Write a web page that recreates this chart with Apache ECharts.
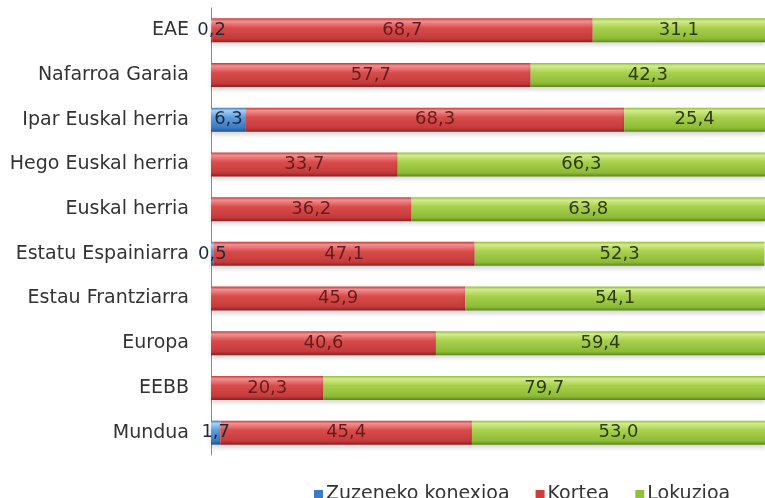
<!DOCTYPE html>
<html>
<head>
<meta charset="utf-8">
<script src="https://cdn.jsdelivr.net/npm/echarts@6/dist/echarts.min.js"></script>
<style>
  html, body { margin: 0; padding: 0; background: #fff; }
  #chart { width: 765px; height: 498px; }
</style>
</head>
<body>
<div id="chart"></div>
<script>
// Regions, listed top to bottom
const categories = [
  'EAE', 'Nafarroa Garaia', 'Ipar Euskal herria', 'Hego Euskal herria',
  'Euskal herria', 'Estatu Espainiarra', 'Estau Frantziarra', 'Europa',
  'EEBB', 'Mundua'
];
const seriesNames = ['Zuzeneko konexioa', 'Kortea', 'Lokuzioa'];
// Shares in percent (null = no segment)
const zuzenekoKonexioa = [0.2, null, 6.3, null, null, 0.5, null, null, null, 1.7];
const kortea = [68.7, 57.7, 68.3, 33.7, 36.2, 47.1, 45.9, 40.6, 20.3, 45.4];
const lokuzioa = [31.1, 42.3, 25.4, 66.3, 63.8, 52.3, 54.1, 59.4, 79.7, 53.0];

const FONT = '"DejaVu Sans", Verdana, sans-serif';

function bevel(stops) {
  return new echarts.graphic.LinearGradient(0, 0, 0, 1,
    stops.map(([offset, color]) => ({ offset, color })));
}

const fills = [
  bevel([[0, '#3d7cc4'], [0.12, '#a6d0f4'], [0.4, '#5d9de0'], [0.85, '#3a78c0'], [1, '#1f4f8a']]),
  bevel([[0, '#c23c3c'], [0.12, '#f29090'], [0.4, '#da4c4c'], [0.85, '#c43a3a'], [1, '#8a1f1f']]),
  bevel([[0, '#94bd38'], [0.12, '#d2ec8c'], [0.4, '#a8d04c'], [0.85, '#8dbb36'], [1, '#5c8618']])
];
const swatches = ['#3a7cc8', '#d23c3c', '#93c23a'];
const labelColors = ['#1e2a3c', '#641c1c', '#2c3a0e'];
const values = [zuzenekoKonexioa, kortea, lokuzioa];

const fmt = v => v.toFixed(1).replace('.', ',');

const series = seriesNames.map((name, i) => ({
  name,
  type: 'bar',
  stack: 'total',
  barWidth: 24,
  data: values[i],
  itemStyle: {
    color: fills[i],
    shadowColor: 'rgba(0,0,0,0.15)',
    shadowBlur: 4,
    shadowOffsetY: 3
  },
  label: {
    show: true,
    position: 'inside',
    formatter: p => (p.value == null ? '' : fmt(p.value)),
    color: labelColors[i],
    fontFamily: FONT,
    fontSize: 18
  },
  emphasis: { disabled: true }
}));

const chart = echarts.init(document.getElementById('chart'));
chart.setOption({
  animation: false,
  color: swatches,
  grid: { left: 211, right: 0, top: 8, bottom: 43 },
  legend: {
    data: seriesNames.map((n, i) => ({ name: n, itemStyle: { color: swatches[i] } })),
    left: 309,
    top: 480,
    itemWidth: 9,
    itemHeight: 9,
    itemGap: 26,
    icon: 'rect',
    textStyle: { fontFamily: FONT, fontSize: 19, color: '#333', padding: [0, 0, 0, -2] }
  },
  xAxis: {
    type: 'value',
    min: 0,
    max: 100,
    show: false
  },
  yAxis: {
    type: 'category',
    data: categories,
    inverse: true,
    axisLine: { show: true, lineStyle: { color: '#8c8c8c', width: 1 } },
    axisTick: { show: false },
    axisLabel: { fontFamily: FONT, fontSize: 19, color: '#333', margin: 22 }
  },
  series
});
</script>
</body>
</html>
